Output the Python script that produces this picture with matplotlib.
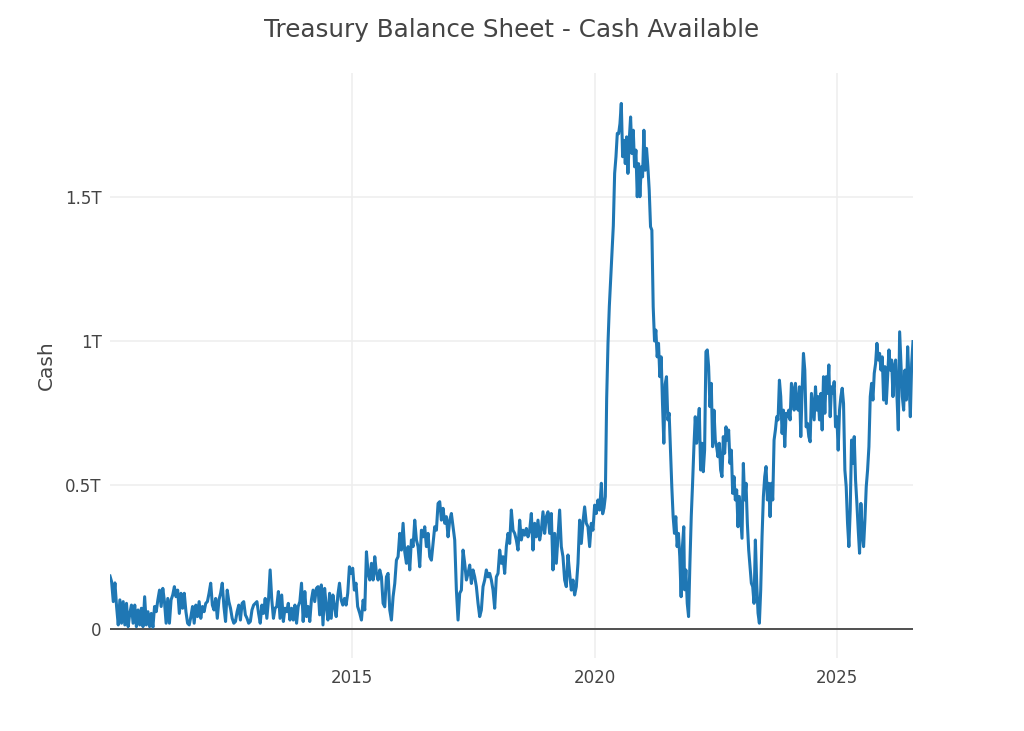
import numpy as np
import pandas as pd
import matplotlib
matplotlib.use('Agg')
import matplotlib.pyplot as plt
import matplotlib.dates as mdates

# Treasury cash balance, billions of dollars in four stretches
cash_2010_2015 = [184, 164, 95, 160, 78, 14, 101, 20, 95, 14, 89, 8, 54, 83, 20, 83, 8, 66, 14, 72,
                  8, 112, 14, 60, 8, 54, 6, 78, 60, 101, 135, 78, 141, 95, 20, 106, 20, 101, 118, 147,
                  112, 135, 54, 124, 72, 124, 60, 20, 14, 43, 78, 20, 83, 43, 95, 37, 78, 60, 89, 95,
                  124, 159, 83, 66, 106, 37, 101, 124, 159, 78, 26, 135, 95, 72, 37, 20, 26, 60, 83, 31,
                  89, 95, 49, 37, 20, 26, 66, 83, 89, 95, 54, 20, 83, 54, 106, 37, 101, 205, 101, 37,
                  72, 78, 130, 37, 118, 26, 72, 60, 89, 31, 72, 31, 83, 20, 78, 95, 159, 26, 130, 43,
                  78, 26, 101, 135, 95, 141, 147, 49, 153, 14, 141, 78, 31, 124, 37, 118, 78, 43, 118, 159,
                  101, 83, 106, 83, 124, 216, 193, 211, 135, 159, 78]
cash_2015_2020 = [54, 31, 100, 66, 268, 193, 170, 228, 170, 251, 193, 170, 205, 181, 89, 77, 181, 193, 66, 31,
                  112, 158, 239, 251, 332, 274, 367, 268, 228, 286, 205, 309, 286, 378, 309, 286, 216, 343, 320, 355,
                  286, 332, 251, 239, 297, 355, 343, 436, 442, 378, 419, 367, 390, 320, 378, 401, 355, 309, 135, 31,
                  124, 135, 274, 228, 170, 193, 222, 158, 205, 181, 147, 89, 43, 66, 147, 170, 205, 181, 193, 170,
                  135, 72, 181, 193, 274, 228, 251, 193, 286, 332, 297, 413, 343, 332, 309, 274, 378, 309, 343, 326,
                  349, 320, 343, 401, 274, 367, 320, 378, 309, 343, 407, 332, 390, 407, 332, 401, 205, 332, 228, 320,
                  413, 286, 251, 170, 147, 257, 193, 135, 170, 118, 147, 228, 378, 297, 372, 424, 367, 355, 286, 367,
                  343, 430, 401, 448, 413]
cash_2020_2021 = [506, 400, 420, 460, 800, 992, 1120, 1211, 1300, 1400, 1582, 1640, 1721, 1720, 1755, 1825,
                  1640, 1697, 1616, 1709, 1582, 1700, 1778, 1651, 1732, 1605, 1663, 1501, 1616, 1501, 1605,
                  1570, 1732, 1593, 1669, 1605, 1524, 1397, 1385, 1119, 1000, 1038, 945, 992, 876, 945, 783,
                  645, 850, 876, 726, 749, 622, 494, 390, 332, 390, 286, 332, 251, 112, 286, 355]
cash_2021_2026 = [136, 205, 89, 43, 228, 390, 506, 633, 737, 645, 702, 766, 552, 645, 546, 621, 963, 969, 911, 772,
                  853, 633, 760, 656, 633, 598, 645, 552, 529, 668, 610, 702, 656, 691, 575, 621, 471, 529, 448, 483,
                  355, 460, 390, 315, 575, 448, 506, 367, 274, 217, 159, 147, 89, 309, 159, 55, 20, 136, 321, 460,
                  529, 564, 448, 506, 390, 506, 448, 656, 691, 737, 726, 864, 807, 679, 760, 633, 749, 737, 760, 726,
                  853, 830, 760, 853, 772, 760, 841, 668, 830, 957, 899, 702, 714, 668, 650, 818, 772, 726, 841, 760,
                  807, 726, 818, 691, 876, 749, 876, 818, 917, 737, 841, 818, 859, 702, 737, 621, 760, 807, 836, 783,
                  552, 494, 367, 286, 413, 656, 575, 668, 517, 436, 344, 263, 436, 332, 286, 378, 494, 552, 633, 807,
                  853, 795, 888, 922, 992, 934, 957, 899, 945, 795, 911, 783, 876, 969, 899, 934, 807, 911, 934, 807,
                  691, 1032, 922, 807, 760, 899, 795, 980, 864, 737, 922, 998]

# first and last date of each stretch
spans = [('2010-01-01', '2015-02-10'), ('2015-02-26', '2020-02-07'),
         ('2020-02-20', '2021-11-02'), ('2021-11-08', '2026-07-26')]

yticks = [0, 500, 1000, 1500]
ytick_labels = ['0', '0.5T', '1T', '1.5T']
xtick_years = [2015, 2020, 2025]

pieces = [cash_2010_2015, cash_2015_2020, cash_2020_2021, cash_2021_2026]
dates = []
cash = []
for (a, b), vals in zip(spans, pieces):
    dates.extend(pd.date_range(a, b, periods=len(vals)))
    cash.extend(vals)
df = pd.DataFrame({'date': dates, 'cash': cash})

plt.rcParams['font.family'] = ['DejaVu Sans']
txt = '#444444'

fig = plt.figure(figsize=(10.24, 7.31), dpi=100)
ax = fig.add_axes([0.1074, 0.0999, 0.7842, 0.8002])

ax.plot(df['date'], df['cash'], color='#1f77b4', lw=2.2, zorder=3)
ax.axhline(0, color=txt, lw=1.3, zorder=2)

ax.set_xlim(df['date'].min(), df['date'].max())
ax.set_ylim(-100.7, 1930.6)

ax.set_yticks(yticks)
ax.set_yticklabels(ytick_labels)
ax.set_xticks([pd.Timestamp(f'{y}-01-01') for y in xtick_years])
ax.xaxis.set_major_formatter(mdates.DateFormatter('%Y'))

ax.grid(True, color='#eeeeee', lw=1.1, zorder=0)
ax.set_axisbelow(True)
for s in ax.spines.values():
    s.set_visible(False)
ax.tick_params(length=0, labelsize=12, colors=txt)
ax.tick_params(axis='y', pad=6)
ax.tick_params(axis='x', pad=8)

fig.text(0.5, 1 - 37 / 731, 'Treasury Balance Sheet - Cash Available', ha='center', va='baseline',
         fontsize=17.7, color=txt)
fig.text(46.5 / 1024, 1 - 365 / 731, 'Cash', rotation=90, ha='center', va='center',
         fontsize=14.5, color=txt)

plt.savefig('out.png', dpi=100)
